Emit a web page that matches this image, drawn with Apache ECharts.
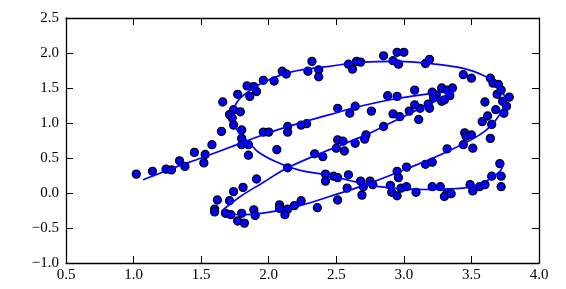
<!DOCTYPE html>
<html>
<head>
<meta charset="utf-8">
<script src="https://cdn.jsdelivr.net/npm/echarts@6/dist/echarts.min.js"></script>
<style>html,body{margin:0;padding:0;background:#fff}#c{width:566px;height:289px}</style>
</head>
<body>
<div id="c"></div>
<script>
// tick labels
const xTicks = [0.5, 1.0, 1.5, 2.0, 2.5, 3.0, 3.5, 4.0];
const yTicks = [-1.0, -0.5, 0.0, 0.5, 1.0, 1.5, 2.0, 2.5];

// noisy observations
const pointsLeftUpper = [
  [2.32,1.88],[2.29,1.74],[2.37,1.76],[2.37,1.66],[2.10,1.74],[2.13,1.70],[2.04,1.60],[1.96,1.61],
  [1.89,1.52],[1.91,1.45],[1.84,1.53],[1.86,1.38],[1.77,1.41],[1.66,1.30],[1.74,1.19],[1.79,1.16],
  [1.71,1.12],[1.73,1.07],[1.74,0.97],[1.80,0.90],[1.65,0.88],[1.96,0.87],[2.00,0.87],[2.14,0.95],
  [2.14,0.87],[2.28,0.99],[2.24,0.97]
];
const pointsLeftLower = [
  [1.02,0.27],[1.14,0.31],[1.24,0.34],[1.28,0.33],[1.34,0.46],[1.38,0.38],[1.45,0.58],[1.53,0.55],
  [1.52,0.43],[1.58,0.69],[1.80,0.78],[1.80,0.69],[1.85,0.69],[1.85,0.54],[2.06,0.62],[2.14,0.36],
  [2.34,0.56],[2.40,0.52],[2.42,0.27],[2.42,0.17],[1.91,0.20],[1.81,0.08],[1.74,0.02],[1.71,-0.11],
  [1.62,-0.10],[1.60,-0.23],[1.60,-0.27],[1.68,-0.29],[1.72,-0.31],[1.80,-0.29],[1.89,-0.24],[1.90,-0.32],
  [1.77,-0.40],[1.82,-0.43],[2.08,-0.17],[2.08,-0.22],[2.14,-0.23],[2.12,-0.31],[2.19,-0.18],[2.24,-0.11],
  [2.36,-0.21]
];
const pointsRightUpper = [
  [2.59,1.84],[2.62,1.77],[2.65,1.88],[2.68,1.87],[2.85,1.96],[2.95,2.01],[3.00,2.01],[2.92,1.89],
  [2.96,1.84],[3.16,1.85],[3.19,1.91],[3.44,1.69],[3.50,1.64],[3.64,1.64],[3.66,1.57],[3.70,1.55],
  [3.69,1.41],[3.72,1.47],[3.78,1.37],[3.73,1.31],[3.76,1.24],[3.74,1.14],[3.68,1.19],[3.60,1.30],
  [3.62,1.10],[3.58,1.02],[3.65,0.98],
  [2.51,1.21],[2.60,1.14],[2.64,1.24],[2.76,1.17],[2.88,1.39],[2.95,1.38],[3.08,1.47],[3.21,1.44],
  [3.24,1.40],[3.28,1.50],[3.32,1.47],[3.36,1.50],[3.34,1.39],[3.28,1.31],[3.30,1.33],[3.22,1.36],
  [3.18,1.27],[3.19,1.21],[3.12,1.21],[3.08,1.26],[3.04,1.17],[2.97,1.09],[2.92,1.13],[3.11,1.05],
  [2.85,0.95],[2.72,0.83],[3.45,0.86]
];
const pointsRightLower = [
  [2.51,0.76],[2.55,0.74],[2.50,0.64],[2.56,0.60],[2.64,0.71],[2.71,0.77],[3.32,0.63],[3.44,0.69],
  [3.51,0.64],[3.46,0.81],[3.50,0.83],[3.64,0.78],[3.16,0.41],[3.21,0.44],[3.02,0.37],[2.95,0.31],
  [2.96,0.22],[2.48,0.24],[2.51,0.22],[2.59,0.26],[2.68,0.17],[2.70,0.09],[2.75,0.17],[2.77,0.12],
  [2.58,0.07],[2.69,-0.03],[2.90,0.11],[2.91,0.01],[2.95,-0.04],[2.98,0.07],[3.02,0.09],[3.09,0.01],
  [3.21,0.09],[3.27,0.09],[3.32,0.00],[3.30,-0.05],[3.35,-0.01],[3.49,0.12],[3.51,0.03],[3.56,0.09],
  [3.60,0.12],[3.65,0.24],[3.72,0.24],[3.71,0.42],[3.72,0.09],[2.51,-0.10]
];

// fitted curve, in three pieces (sharp turns between them)
const curveSeg1 = [
  [1.07,0.19],[1.30,0.36],[1.50,0.50],[1.75,0.68],[2.00,0.86],[2.25,1.01],[2.45,1.12],
  [2.70,1.25],[2.95,1.35],[3.20,1.42],[3.37,1.45]
];
const curveSeg2 = [
  [3.37,1.45],[3.22,1.30],[3.07,1.16],[2.90,1.00],[2.72,0.83],[2.45,0.62],[2.14,0.36],
  [1.95,0.14],[1.79,-0.05],[1.65,-0.26]
];
const curveSeg3 = [
  [1.65,-0.26],[1.72,-0.30],[1.82,-0.31],[2.05,-0.26],[2.25,-0.17],[2.45,-0.05],[2.72,0.12],
  [3.04,0.36],[3.32,0.59],[3.56,0.83],[3.68,1.04],[3.75,1.31],[3.70,1.54],[3.61,1.66],
  [3.44,1.78],[3.19,1.85],[2.95,1.88],[2.70,1.87],[2.45,1.81],[2.17,1.73],[1.97,1.59],
  [1.85,1.45],[1.77,1.31],[1.74,1.14],[1.75,0.97],[1.79,0.83],[1.85,0.73],[1.92,0.59],
  [2.05,0.45],[2.22,0.33],[2.42,0.26],[2.82,0.09],[3.14,0.05],[3.44,0.07],[3.61,0.17],
  [3.71,0.31],[3.74,0.43]
];

const FONT = 'Liberation Serif';
function fmt(v){
  const s = Math.abs(v).toFixed(1);
  return (v < 0 ? '\u2212' : '') + s;
}
const tickStyle = {inside:true, length:7, lineStyle:{color:'#000', width:1}};
const lineStyle = {onZero:false, lineStyle:{color:'#000', width:1.3}};
const labelBase = {color:'#000', fontFamily:FONT, fontSize:15};

const chart = echarts.init(document.getElementById('c'), null, {renderer:'canvas'});
const allPoints = pointsLeftUpper.concat(pointsLeftLower, pointsRightUpper, pointsRightLower);

const curveSeries = [curveSeg1, curveSeg2, curveSeg3].map(seg => ({
  type:'line', data:seg, smooth:0.35, showSymbol:false, symbol:'none',
  lineStyle:{color:'#0000ff', width:1.7}, z:5, animation:false, silent:true
}));

chart.setOption({
  animation:false,
  grid:{left:66, right:27, top:18, bottom:26, containLabel:false},
  xAxis:[
    {type:'value', min:0.5, max:4.0, interval:0.5, position:'bottom',
     axisLine:lineStyle, axisTick:tickStyle, splitLine:{show:false},
     axisLabel:Object.assign({margin:5, formatter:fmt}, labelBase)},
    {type:'value', min:0.5, max:4.0, interval:0.5, position:'top',
     axisLine:lineStyle, axisTick:tickStyle, splitLine:{show:false}, axisLabel:{show:false}}
  ],
  yAxis:[
    {type:'value', min:-1.0, max:2.5, interval:0.5, position:'left',
     axisLine:lineStyle, axisTick:tickStyle, splitLine:{show:false},
     axisLabel:Object.assign({margin:7, formatter:fmt}, labelBase)},
    {type:'value', min:-1.0, max:2.5, interval:0.5, position:'right',
     axisLine:lineStyle, axisTick:tickStyle, splitLine:{show:false}, axisLabel:{show:false}}
  ],
  series:[
    {type:'scatter', data:allPoints, symbol:'circle', symbolSize:8,
     itemStyle:{color:'#0000ff', borderColor:'#000', borderWidth:1.3, opacity:1}, z:3}
  ].concat(curveSeries)
});
</script>
</body>
</html>
